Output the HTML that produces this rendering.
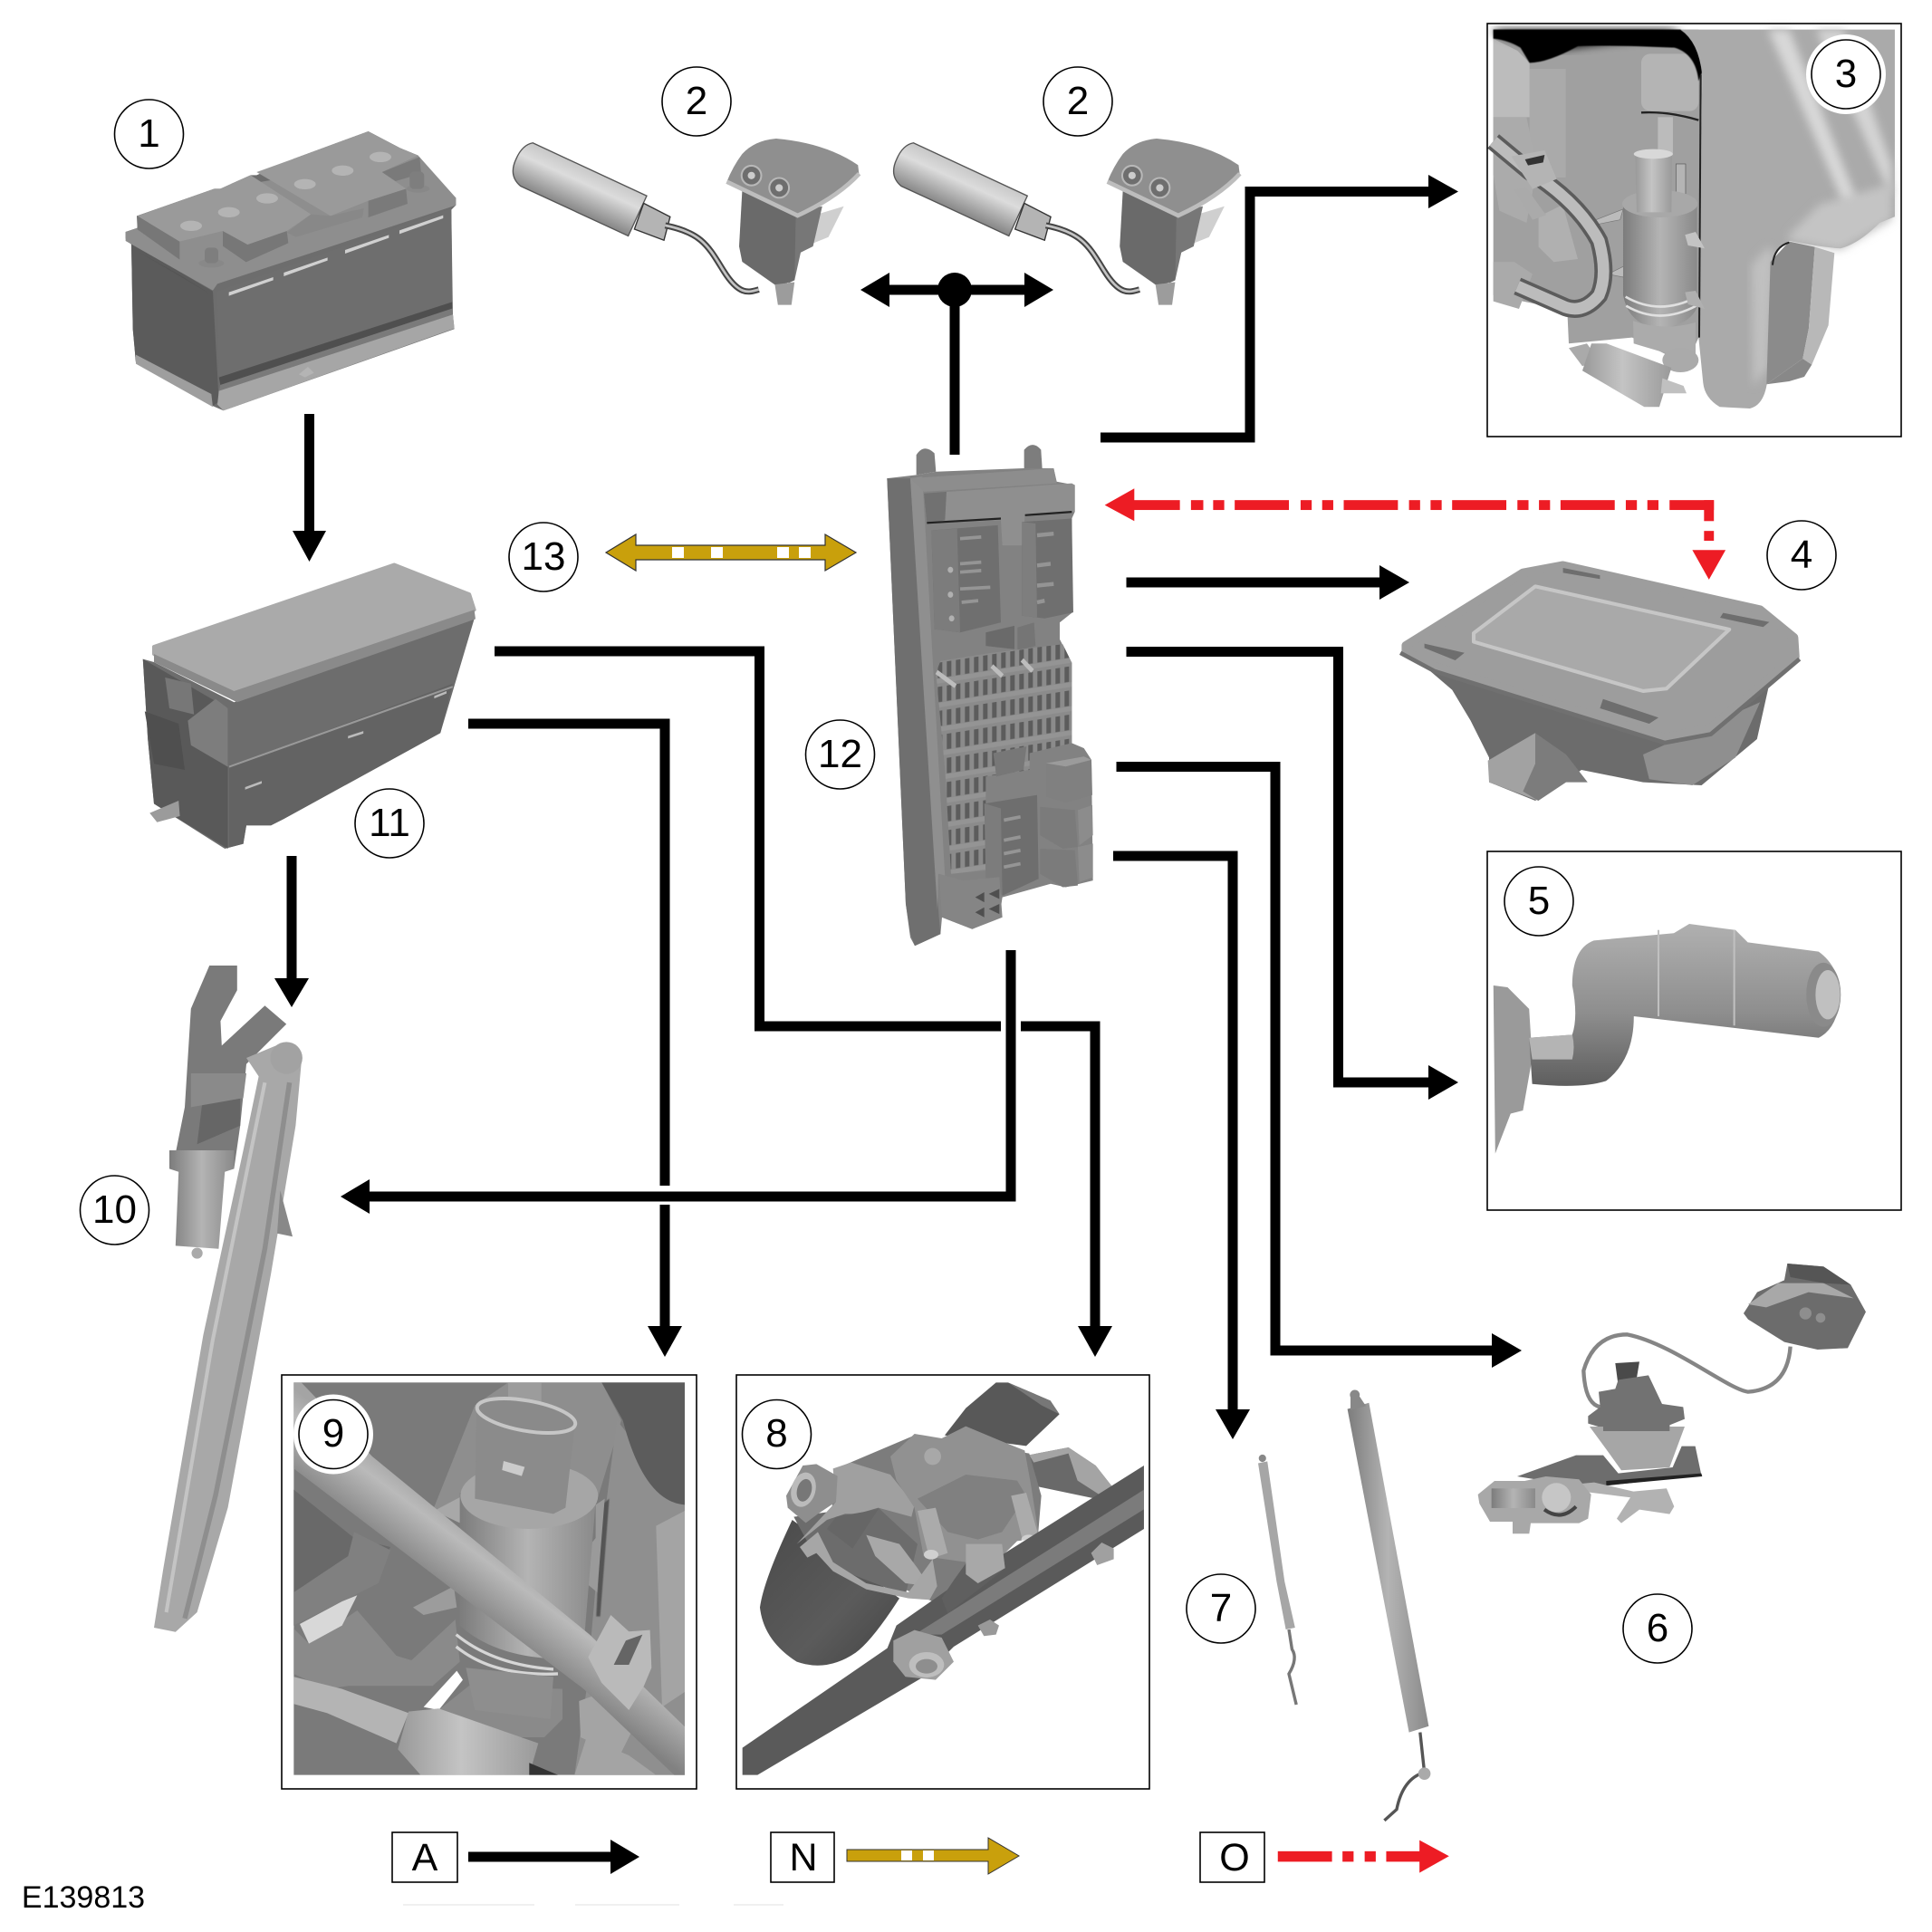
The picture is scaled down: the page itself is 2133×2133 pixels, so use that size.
<!DOCTYPE html>
<html><head><meta charset="utf-8"><style>
html,body{margin:0;padding:0;background:#fff}
svg{display:block}
text{font-family:"Liberation Sans",sans-serif;fill:#000;text-anchor:middle}
.b{fill:none;stroke:#000;stroke-width:11;stroke-linejoin:miter}
.c{fill:#fff;stroke:#000;stroke-width:1.6}
.r{fill:#fff;stroke:#000;stroke-width:1.6}
</style></head><body>
<svg width="2133" height="2133" viewBox="0 0 2133 2133" xmlns="http://www.w3.org/2000/svg">
<defs>
<filter id="bl" x="-20%" y="-20%" width="140%" height="140%"><feGaussianBlur stdDeviation="14"/></filter>
<filter id="bs" x="-20%" y="-20%" width="140%" height="140%"><feGaussianBlur stdDeviation="1.5"/></filter>
<linearGradient id="v" x1="0" y1="0" x2="0" y2="1"><stop offset="0" stop-color="#b0b0b0"/><stop offset=".55" stop-color="#8e8e8e"/><stop offset="1" stop-color="#5e5e5e"/></linearGradient>
<linearGradient id="h" x1="0" y1="0" x2="1" y2="0"><stop offset="0" stop-color="#7c7c7c"/><stop offset=".5" stop-color="#b4b4b4"/><stop offset="1" stop-color="#8a8a8a"/></linearGradient>
<linearGradient id="hl" x1="0" y1="0" x2="1" y2="0"><stop offset="0" stop-color="#999"/><stop offset=".45" stop-color="#c4c4c4"/><stop offset="1" stop-color="#9a9a9a"/></linearGradient>
<linearGradient id="cy" gradientUnits="userSpaceOnUse" x1="960" y1="276" x2="931" y2="340"><stop offset="0" stop-color="#c8c8c8"/><stop offset=".35" stop-color="#dcdcdc"/><stop offset="1" stop-color="#8a8a8a"/></linearGradient>
<linearGradient id="rod9" gradientUnits="userSpaceOnUse" x1="700" y1="540" x2="550" y2="740"><stop offset="0" stop-color="#a4a4a4"/><stop offset=".3" stop-color="#bababa"/><stop offset="1" stop-color="#818181"/></linearGradient>
<linearGradient id="motor" x1="0" y1="0" x2="1" y2="1"><stop offset="0" stop-color="#4a4a4a"/><stop offset=".6" stop-color="#5b5b5b"/><stop offset="1" stop-color="#444"/></linearGradient>
<pattern id="fuse" width="30" height="72" patternUnits="userSpaceOnUse" patternTransform="translate(250,745) skewY(-8)"><rect width="30" height="72" fill="#8b8b8b"/><rect x="6" y="4" width="15" height="46" fill="#5c5c5c"/><rect x="0" y="52" width="30" height="14" fill="#949494"/></pattern>
</defs>

<!-- battery -->
<g transform="translate(120,130) scale(.3333)">
 <polygon points="56,378 95,365 93,325 350,235 370,235 470,190 490,190 615,135 860,45 965,100 1025,125 1035,180 1150,265 1150,290 1135,305 1140,650 1145,700 380,970 345,955 90,810 80,700 75,420 56,400" fill="#6d6d6d"/>
 <polygon points="75,415 345,575 365,940 345,955 90,810 80,700" fill="#5b5b5b"/>
 <polygon points="360,575 1135,300 1138,615 365,860" fill="#6e6e6e"/>
 <polygon points="365,860 1138,610 1138,632 370,885" fill="#4f4f4f"/>
 <polygon points="370,885 1138,632 1140,652 365,905" fill="#7a7a7a"/>
 <polygon points="365,905 1140,652 1145,698 380,970 360,950" fill="#a6a6a6"/>
 <polygon points="90,785 340,915 345,958 90,815" fill="#9e9e9e"/>
 <polygon points="56,378 95,365 370,235 1025,125 1150,265 1150,290 360,550 345,572 56,408" fill="#8e8e8e"/>
 <polygon points="100,445 330,580 235,520" fill="#555"/>
 <polygon points="95,325 235,410 235,470 95,370" fill="#777"/>
 <polygon points="378,375 460,420 590,375 595,415 455,478 378,425" fill="#777"/>
 <polygon points="95,325 350,235 370,235 470,190 670,320 590,375 460,420 378,375 235,410" fill="#9a9a9a"/>
 <polygon points="860,275 985,235 990,285 860,330" fill="#7a7a7a"/>
 <polygon points="905,180 1030,130 1035,185 950,210" fill="#7a7a7a"/>
 <polygon points="490,180 615,135 860,45 965,100 1025,125 905,180 985,235 860,275 735,325" fill="#9a9a9a"/>
 <polygon points="670,320 735,325 845,300 840,330 620,395 590,380" fill="#888"/>
 <g fill="#b4b4b4"><ellipse cx="273" cy="358" rx="36" ry="17"/><ellipse cx="398" cy="313" rx="36" ry="17"/><ellipse cx="525" cy="267" rx="36" ry="17"/><ellipse cx="650" cy="220" rx="36" ry="17"/><ellipse cx="775" cy="175" rx="36" ry="17"/><ellipse cx="900" cy="130" rx="36" ry="17"/></g>
 <g fill="#888"><ellipse cx="340" cy="482" rx="42" ry="14"/><ellipse cx="1025" cy="235" rx="38" ry="13"/></g>
 <g fill="#7e7e7e"><rect x="318" y="430" width="45" height="52" rx="14"/><rect x="997" y="178" width="48" height="58" rx="14"/></g>
 <g fill="#d0d0d0"><polygon points="398,578 545,528 545,538 398,590"/><polygon points="580,513 725,463 725,473 580,525"/><polygon points="783,438 928,388 928,398 783,450"/><polygon points="963,373 1108,323 1108,333 963,385"/></g>
 <g fill="#b4b4b4"><polygon points="630,850 660,825 680,845 650,860"/></g>
</g>

<!-- fuse box 11 -->
<g transform="scale(.68)">
 <polygon points="232,1070 250,1075 380,1140 770,1005 715,1190 460,1330 440,1340 400,1340 395,1370 365,1378 250,1305 240,1200" fill="#6d6d6d"/>
 <polygon points="232,1070 370,1150 370,1378 250,1305 240,1200" fill="#595959"/>
 <polygon points="372,1245 372,1376 395,1370 400,1340 440,1340 460,1330 715,1190 735,1110" fill="#636363"/>
 <polygon points="250,1050 640,917 762,965 770,990 380,1122 250,1062" fill="#aaaaaa" stroke="#aaa" stroke-width="6" stroke-linejoin="round"/>
 <polygon points="250,1062 380,1122 770,990 772,1005 385,1140 250,1075" fill="#8a8a8a"/>
 <polygon points="305,1170 350,1135 370,1150 370,1245 310,1210" fill="#7d7d7d"/>
 <path d="M372 1245 735 1115" stroke="#999" stroke-width="3" fill="none"/>
 <polygon points="243,1320 290,1300 292,1325 255,1335" fill="#9b9b9b"/>
 <polygon points="268,1100 310,1110 315,1160 275,1150" fill="#777"/>
 <polygon points="235,1155 290,1175 300,1250 250,1240" fill="#4f4f4f"/>
 <polygon points="398,1278 425,1268 425,1272 398,1282" fill="#bbb"/><polygon points="565,1195 590,1187 590,1191 565,1199" fill="#bbb"/><polygon points="705,1130 725,1122 725,1126 705,1134" fill="#bbb"/>
</g>

<!-- nozzles -->
<g transform="scale(.68)">
 <g id="noz">
  <path d="M865 232 1050 318 1020 383 845 302Q825 285 838 258Q848 235 865 232Z" fill="url(#cy)" stroke="#555" stroke-width="2"/>
  <polygon points="1045,330 1088,352 1078,390 1030,372" fill="#b4b4b4" stroke="#333" stroke-width="2"/>
  <path d="M1080 366C1140 378 1150 400 1175 440S1215 475 1232 470" stroke="#444" stroke-width="10" fill="none"/>
  <path d="M1080 366C1140 378 1150 400 1175 440S1215 475 1232 470" stroke="#c4c4c4" stroke-width="4" fill="none"/>
  <polygon points="1320,350 1370,335 1345,385 1320,395" fill="#cfcfcf"/>
  <polygon points="1285,345 1335,335 1320,400 1300,410 1290,455 1280,460" fill="#777"/>
  <polygon points="1205,310 1292,350 1290,455 1262,465 1205,425 1200,400" fill="#6a6a6a"/>
  <polygon points="1258,462 1290,458 1285,495 1263,495" fill="#9c9c9c"/>
  <path d="M1205 250Q1225 228 1260 225Q1340 232 1393 268L1395 285Q1360 315 1300 350L1180 295Q1190 270 1205 250Z" fill="#8f8f8f"/>
  <path d="M1180 295 1295 350Q1360 320 1395 282" stroke="#bdbdbd" stroke-width="7" fill="none"/>
  <circle cx="1220" cy="285" r="16" fill="#6e6e6e" stroke="#b8b8b8" stroke-width="3"/><circle cx="1265" cy="305" r="16" fill="#6e6e6e" stroke="#b8b8b8" stroke-width="3"/>
  <circle cx="1220" cy="285" r="6" fill="#ccc"/><circle cx="1265" cy="305" r="6" fill="#ccc"/>
 </g>
 <use href="#noz" transform="translate(618,0)"/>
</g>

<!-- BCM 12 -->
<g transform="translate(960,480) scale(.3333,.37)">
 <g fill="#7d7d7d"><path d="M155 120V60Q180 25 215 55L220 110Z"/><path d="M512 100V45Q540 15 568 45L572 100Z"/></g>
 <polygon points="58,130 155,120 220,110 510,100 610,100 620,140 680,150 680,230 670,250 672,530 630,560 630,610 670,680 670,920 710,935 735,970 740,1330 650,1350 600,1340 440,1380 430,1440 340,1475 240,1440 235,1490 150,1525 135,1500 120,1400" fill="#828282"/>
 <polygon points="58,130 135,130 230,1440 235,1490 150,1525 135,1490 120,1400" fill="#6f6f6f"/>
 <polygon points="135,130 175,125 250,1320 228,1310 225,1420" fill="#8f8f8f"/>
 <polygon points="135,130 610,100 620,145 180,170" fill="#8d8d8d"/>
 <polygon points="180,175 670,145 680,150 680,230 515,240 505,330 440,330 435,255 190,265" fill="#8f8f8f"/>
 <polygon points="180,175 255,170 250,255 190,265" fill="#717171"/>
 <path d="M190 263 435 250M515 240 670 230" stroke="#222" stroke-width="6"/>
 <polygon points="205,285 425,270 435,560 300,590 215,580" fill="#6f6f6f"/>
 <polygon points="205,285 290,280 300,590 215,580" fill="#7c7c7c"/>
 <path d="M300 310 370 305M300 385 370 380M300 410 370 405M300 460 400 455M305 500 360 495" stroke="#959595" stroke-width="10"/>
 <g fill="#b0b0b0"><circle cx="268" cy="403" r="9"/><circle cx="268" cy="477" r="9"/><circle cx="272" cy="548" r="9"/><circle cx="525" cy="372" r="8"/><circle cx="525" cy="440" r="8"/><circle cx="527" cy="508" r="8"/></g>
 <polygon points="505,260 670,250 675,530 580,548 505,540" fill="#6f6f6f"/>
 <polygon points="505,260 550,265 555,545 505,540" fill="#7e7e7e"/>
 <path d="M555 300 610 295M555 390 600 385M555 450 610 445M555 500 580 495" stroke="#949494" stroke-width="12"/>
 <polygon points="385,590 480,570 480,640 385,630" fill="#6a6a6a"/>
 <polygon points="490,575 545,560 550,630 490,645" fill="#757575"/>
 <polygon points="235,675 410,650 640,625 670,680 670,920 530,950 530,1000 385,1020 385,1300 270,1310 250,1000 220,710" fill="url(#fuse)"/>
 <path d="M222 708 285 750M405 690 440 720M505 672 540 705" stroke="#bdbdbd" stroke-width="14"/>
 <polygon points="410,950 520,930 510,1000 420,1020" fill="#777"/>
 <polygon points="585,980 710,960 735,970 738,1075 650,1098 585,1080" fill="#808080"/>
 <polygon points="585,980 710,960 735,970 650,990" fill="#9b9b9b"/>
 <polygon points="565,1110 680,1120 690,1230 640,1235 565,1195" fill="#7b7b7b"/>
 <polygon points="690,1120 738,1105 740,1195 695,1225" fill="#8c8c8c"/>
 <polygon points="565,1235 680,1240 690,1345 640,1350 565,1310" fill="#7b7b7b"/>
 <polygon points="690,1230 740,1220 740,1320 695,1335" fill="#8c8c8c"/>
 <polygon points="385,1100 555,1075 560,1325 440,1375 420,1300" fill="#6e6e6e"/>
 <polygon points="380,1100 435,1115 440,1375 385,1330" fill="#7c7c7c"/>
 <path d="M445 1150 500 1140M445 1210 500 1200M445 1250 500 1240M445 1290 500 1280" stroke="#959595" stroke-width="10"/>
 <polygon points="230,1310 310,1330 430,1320 440,1440 340,1475 240,1440" fill="#858585"/>
 <g fill="#4f4f4f"><polygon points="350,1380 380,1365 380,1395"/><polygon points="395,1370 430,1355 430,1385"/><polygon points="350,1425 380,1410 380,1440"/><polygon points="395,1415 430,1400 430,1430"/></g>
</g>

<!-- wiper 10 -->
<g transform="translate(0,1066) scale(.68)">
  <polygon points="340,0 385,0 385,40 358,90 360,130 430,65 465,95 400,160 390,260 380,330 280,330 300,230 310,70" fill="#7a7a7a"/>
  <polygon points="330,210 390,180 390,260 320,290" fill="#666"/>
  <polygon points="400,150 460,125 490,150 480,260 440,500 370,880 320,1050 285,1082 250,1075 265,980 330,600 395,300 420,180" fill="#a8a8a8"/>
  <path d="M430 190 345 610 270 1050" stroke="#c4c4c4" stroke-width="6" fill="none"/>
  <path d="M470 190 430 460 350 860 300 1060" stroke="#8e8e8e" stroke-width="8" fill="none"/>
  <circle cx="465" cy="150" r="26" fill="#a2a2a2"/>
  <polygon points="275,300 380,300 380,330 365,335 355,460 285,455 290,335 275,330" fill="url(#h)"/>
  <polygon points="455,365 475,440 450,435" fill="#888"/>
  <polygon points="310,175 400,175 395,215 310,230" fill="#8a8a8a"/>
  <circle cx="320" cy="467" r="9" fill="#aaa"/>
</g>

<!-- picture 3 -->
<g transform="translate(1642,26) scale(.3333)">
 <polygon points="20,20 700,20 712,170 700,1040 660,1130 480,1040 270,1060 265,950 20,900" fill="#a0a0a0"/>
 <rect x="510" y="100" width="190" height="190" rx="30" fill="#b4b4b4"/>
 <path d="M510 295Q600 290 700 320" stroke="#222" stroke-width="7" fill="none"/>
 <rect x="140" y="150" width="120" height="360" fill="#aaaaaa"/>
 <rect x="565" y="310" width="50" height="120" fill="#bbb"/>
 <polygon points="20,50 100,90 140,130 140,310 20,310" fill="#bcbcbc"/>
 <polygon points="20,310 130,310 165,480 130,660 40,620 20,500" fill="#ababab"/>
 <polygon points="170,640 250,600 300,780 220,790 170,740" fill="#b0b0b0"/>
 <path d="M20 20H640Q700 60 712 160L700 190Q690 100 620 80Q400 70 300 75Q200 130 140 130L110 80Q70 55 20 50Z" fill="#050505" filter="url(#bs)"/>
 <path d="M20 20H640L600 40 200 90 20 30Z" fill="#000" filter="url(#bl)"/>
 <path d="M640 20H1350V640L1300 660Q1230 730 1170 745Q1100 740 1000 720Q950 750 945 800L930 1140Q930 1260 870 1275L770 1270Q720 1240 715 1190L700 1040L712 170Q700 60 640 20Z" fill="#aaaaaa"/>
 <polygon points="930,20 1000,20 1235,610 1190,620" fill="#d8d8d8" filter="url(#bl)"/>
 <polygon points="1090,20 1180,20 1340,470 1340,580" fill="#d4d4d4" filter="url(#bl)"/>
 <polygon points="1100,600 1340,530 1340,650 1170,750 1000,720 1000,700" fill="#c4c4c4" filter="url(#bl)"/>
 <polygon points="875,800 930,740 950,760 930,1140 880,1200" fill="#c0c0c0" filter="url(#bl)"/>
 <polygon points="938,790 1000,722 1085,740 1065,1010 1045,1110 925,1195" fill="#8b8b8b"/>
 <polygon points="1085,740 1150,760 1130,1000 1075,1130 1045,1110 1065,1010" fill="#b8b8b8"/>
 <polygon points="925,1195 1045,1110 1075,1130 1050,1170 1000,1185" fill="#888"/>
 <path d="M707 170 702 1040" stroke="#222" stroke-width="6" fill="none"/>
 <path d="M1000 725Q950 740 945 800" stroke="#222" stroke-width="6" fill="none"/>
 <path d="M360 650 450 615 440 650 365 665ZM400 830 460 800 450 840Z" fill="#bbb" stroke="#777" stroke-width="2"/>
 <rect x="625" y="465" width="32" height="100" fill="#b4b4b4" stroke="#555" stroke-width="2"/>
 <path d="M450 600V900Q470 1000 570 1010Q670 1000 695 940V590Z" fill="url(#h)"/>
 <ellipse cx="572" cy="597" rx="125" ry="45" fill="#a8a8a8"/>
 <polygon points="490,435 612,430 610,625 495,625" fill="url(#hl)"/>
 <ellipse cx="550" cy="432" rx="65" ry="16" fill="#d8d8d8"/>
 <path d="M458 905Q570 970 695 905M460 935Q570 1000 692 935" stroke="#e0e0e0" stroke-width="8" fill="none"/>
 <path d="M483 985 485 1060 620 1100 690 1110V990Q580 1020 483 985Z" fill="#ababab"/>
 <ellipse cx="640" cy="1115" rx="60" ry="40" fill="#aaa"/>
 <polygon points="655,700 690,690 720,745 665,735" fill="#c4c4c4"/><polygon points="655,890 690,885 720,945 665,930" fill="#b0b0b0"/>
 <polygon points="270,1075 330,1060 370,1115 315,1135" fill="#aaa"/>
 <polygon points="345,1060 395,1060 610,1140 570,1270 520,1270 315,1150" fill="url(#hl)"/>
 <polygon points="580,1175 650,1200 660,1225 575,1225" fill="#c0c0c0"/>
 <polygon points="20,790 90,790 150,830 105,945 20,920" fill="#aaa"/>
 <path d="M20 390 140 490Q300 590 370 720Q400 830 370 900Q320 960 260 940L100 870" stroke="#5c5c5c" stroke-width="60" fill="none"/>
 <path d="M20 390 140 490Q300 590 370 720Q400 830 370 900Q320 960 260 940L100 870" stroke="#bcbcbc" stroke-width="38" fill="none"/>
 <polygon points="80,440 190,420 230,515 150,548" fill="#b4b4b4"/>
 <polygon points="90,550 130,545 195,635 150,650" fill="#aaa"/>
 <polygon points="125,450 190,435 185,460 135,470" fill="#333"/>
</g>

<!-- picture 4 -->
<g transform="translate(1066,0) scale(.68)">
 <polygon points="755,1090 1210,1190 1305,1110 1285,1200 1195,1275 1100,1270 1000,1250 925,1300 850,1270 850,1230 820,1170 790,1120" fill="#6c6c6c"/>
 <polygon points="1100,1225 1290,1140 1250,1230 1180,1275 1110,1265" fill="#8f8f8f"/>
 <polygon points="715,1048 905,930 970,918 1290,990 1345,1035 1347,1066 1210,1182 1135,1198 762,1082 715,1058" fill="#9d9d9d" stroke="#9d9d9d" stroke-width="14" stroke-linejoin="round"/>
 <path d="M706 1060 762 1090 1135 1206 1210 1192 1354 1070" fill="none" stroke="#707070" stroke-width="7"/>
 <polygon points="825,1028 925,952 1240,1022 1138,1118 1100,1122 825,1042" fill="#a9a9a9" stroke="#c6c6c6" stroke-width="6" stroke-linejoin="round"/>
 <g fill="#6e6e6e"><polygon points="970,922 1030,934 1030,940 970,930"/><polygon points="1230,995 1305,1010 1295,1018 1225,1003"/><polygon points="745,1045 810,1060 795,1072 745,1052"/><polygon points="1035,1135 1125,1165 1110,1175 1030,1150"/></g>
 <polygon points="848,1235 925,1190 975,1240 930,1300 850,1270" fill="#a2a2a2"/>
 <polygon points="925,1190 975,1225 1010,1270 975,1270 930,1300 905,1285 925,1240" fill="#7c7c7c"/>
</g>

<!-- picture 5 -->
<g transform="translate(1066,0) scale(.68)">
 <polygon points="857,1600 880,1603 915,1638 920,1718 905,1803 885,1808 860,1873" fill="#9a9a9a"/>
 <path d="M985 1600Q985 1540 1020 1527L1150 1515 1175 1500 1250 1510 1270 1530 1385 1545Q1420 1570 1420 1620Q1415 1670 1385 1685L1085 1650Q1085 1720 1040 1755Q1000 1768 920 1760L915 1685 985 1680Q995 1650 985 1600Z" fill="url(#v)"/>
 <path d="M1125 1510V1650M1248 1510V1665" stroke="#c0c0c0" stroke-width="3" fill="none"/>
 <ellipse cx="1393" cy="1615" rx="28" ry="52" fill="#8a8a8a"/><ellipse cx="1400" cy="1615" rx="20" ry="40" fill="#c0c0c0"/>
 <path d="M915 1685 985 1680Q990 1700 985 1720L920 1720Z" fill="#b4b4b4"/>
</g>

<!-- picture 6 -->
<g transform="translate(1630,1390) scale(.3333)">
 <path d="M1040 290Q1030 430 900 440C830 430 650 280 500 250Q390 250 355 370Q360 480 410 490" stroke="#858585" stroke-width="13" fill="none"/>
 <polygon points="1030,15 1150,25 1240,85 1290,175 1230,295 1130,300 1020,275 900,200 885,180 930,110 1020,70" fill="#6c6c6c"/>
 <polygon points="900,150 1000,80 1150,80 1250,130 1100,110 960,160" fill="#a8a8a8"/>
 <polygon points="1030,15 1150,25 1240,85 1150,80 1040,60" fill="#555"/>
 <circle cx="1090" cy="180" r="20" fill="#8e8e8e"/><circle cx="1140" cy="195" r="16" fill="#8e8e8e"/>
 <polygon points="460,345 540,340 530,400 470,420" fill="#4a4a4a"/>
 <polygon points="405,440 460,430 470,400 570,385 615,480 685,490 690,530 640,550 640,565 420,560 370,545 370,520 410,490" fill="#727272"/>
 <polygon points="135,720 330,650 420,650 470,710 650,690 680,620 725,620 745,715 440,750 380,760" fill="#6d6d6d"/>
 <polygon points="375,555 690,555 640,690 480,700 430,630" fill="#a6a6a6"/>
 <polygon points="420,545 640,550 640,570 420,570" fill="#727272"/>
 <polygon points="430,735 745,710 748,720 430,750" fill="#222"/>
 <polygon points="340,745 390,740 520,770 630,760 655,820 640,845 540,830 480,875 465,860 510,790 350,770" fill="#b2b2b2"/>
 <polygon points="5,780 60,735 160,735 230,720 340,730 380,780 370,860 340,875 180,875 175,910 120,910 120,870 45,870 10,810" fill="#a8a8a8"/>
 <circle cx="265" cy="790" r="48" fill="#c6c6c6"/>
 <path d="M225 830Q280 870 330 820" stroke="#444" stroke-width="12" fill="none"/>
 <rect x="50" y="760" width="145" height="65" fill="url(#h)"/>
</g>

<!-- picture 7 -->
<g transform="translate(1066,1066) scale(.68)">
  <polygon points="475,808 490,805 518,1000 535,1075 520,1078 505,1000" fill="#a6a6a6"/>
  <circle cx="482" cy="800" r="6" fill="#888"/>
  <path d="M525 1078 530 1110Q540 1125 525 1150L537 1200" stroke="#777" stroke-width="5" fill="none"/>
  <polygon points="620,720 655,710 752,1235 720,1245" fill="url(#h)"/>
  <polygon points="625,700 640,700 650,715 625,722" fill="#888"/>
  <circle cx="632" cy="697" r="8" fill="#888"/>
  <path d="M738 1245 745 1310Q710 1320 700 1370L680 1388" stroke="#555" stroke-width="5" fill="none"/>
  <circle cx="745" cy="1312" r="10" fill="#aaa"/>
</g>

<!-- picture 9 -->
<g transform="translate(311,1518) scale(.3333)">
 <rect x="40" y="25" width="1295" height="1300" fill="#7a7a7a"/>
 <polygon points="750,25 1060,25 1125,150 1040,430 500,450 640,100" fill="#8e8e8e"/>
 <polygon points="750,25 860,25 860,90 750,90" fill="#9c9c9c"/>
 <polygon points="1110,150 1335,430 1335,1325 970,1325 1010,1040 1040,700" fill="#8f8f8f"/>
 <polygon points="1240,500 1335,450 1335,1050 1260,1100" fill="#a4a4a4"/>
 <path d="M1060 25H1335V430Q1200 420 1130 150Z" fill="#5c5c5c"/>
 <polygon points="1060,430 1085,410 1055,800 1042,800" fill="#555" filter="url(#bs)"/>
 <polygon points="40,380 240,540 360,570 300,690 40,830" fill="#696969"/>
 <polygon points="40,720 220,600 240,520 360,580 320,690 40,830" fill="#808080"/>
 <polygon points="40,840 90,890 250,780 380,930 430,945 575,810 590,950 500,1030 220,1030 150,1040 40,990" fill="#8a8a8a"/>
 <polygon points="60,825 200,750 250,730 200,830 90,890" fill="#d8d8d8"/>
 <polygon points="470,1100 580,980 600,1010 520,1110" fill="#fff"/>
 <polygon points="40,1000 200,1040 420,1120 380,1220 150,1120 40,1090" fill="#b4b4b4"/>
 <polygon points="435,770 570,700 580,770 470,795" fill="#9c9c9c"/>
 <polygon points="505,450 600,400 590,490" fill="#a8a8a8"/>
 <polygon points="1040,430 1070,410 1045,720 985,670 975,620 1040,540" fill="#9a9a9a"/>
 <polygon points="520,1110 620,1030 930,1040 930,1140 870,1200 620,1200" fill="#8a8a8a"/>
 <path d="M590 390V830Q700 930 900 940L1000 900 1040 420Z" fill="url(#h)"/>
 <ellipse cx="820" cy="400" rx="228" ry="110" fill="#a6a6a6"/>
 <polygon points="645,125 970,175 940,440 900,460 640,410" fill="#8b8b8b"/>
 <ellipse cx="810" cy="135" rx="165" ry="50" transform="rotate(10 810 135)" fill="#8a8a8a" stroke="#c6c6c6" stroke-width="12"/>
 <polygon points="735,285 805,305 795,335 730,315" fill="#cbcbcb"/>
 <path d="M578 860Q700 960 900 975M578 900Q700 1000 915 990" stroke="#d6d6d6" stroke-width="10" fill="none"/>
 <path d="M610 970 900 1000 890 1140 640 1110Z" fill="#8e8e8e"/>
 <polygon points="385,1240 420,1115 520,1105 850,1220 820,1325 460,1325" fill="url(#hl)"/>
 <path d="M820 1285 915 1325H820Z" fill="#333"/>
 <path d="M985 1080 1040 1060 1160 1180 1120 1260 990 1200ZM970 1325 1010 1200 1150 1260 1240 1325Z" fill="#a4a4a4"/>
 <polygon points="40,25 65,25 300,270 1020,860 1335,1165 1335,1325 1300,1325 1000,1040 40,310" fill="url(#rod9)"/>
 <polygon points="1015,935 1090,795 1150,850 1220,845 1225,970 1200,1030 1150,1110 1060,1020" fill="#bababa"/>
 <polygon points="1140,880 1195,860 1150,960 1100,960" fill="#656565"/>
</g>

<!-- picture 8 -->
<g transform="translate(813,1518) scale(.3333)">
 <polygon points="760,110 860,25 900,25 1040,85 1070,130 960,235 690,200" fill="#585858"/>
 <polygon points="900,25 1040,85 1070,130 1010,100" fill="#777"/>
 <polygon points="970,265 1100,240 1190,300 1245,370 1190,410 1000,370 975,330" fill="#696969"/>
 <polygon points="970,265 1100,240 1190,300 1245,370 1200,395 1130,350 1100,260 985,290" fill="#a4a4a4"/>
 <polygon points="330,310 590,200 970,260 1010,400 1000,520 900,620 650,750 300,600" fill="#7c7c7c"/>
 <path d="M185 480 540 740Q450 880 395 920Q300 985 200 950Q90 880 78 770Q90 680 185 480Z" fill="url(#motor)"/>
 <polygon points="190,470 330,450 470,440 600,560 560,730 330,640 250,580" fill="#6c6c6c"/>
 <polygon points="430,530 540,560 600,640 640,700 560,690 460,600" fill="#a8a8a8"/>
 <polygon points="210,570 270,520 320,620 430,690 570,720 650,610 665,700 640,745 570,740 430,710 320,650 265,590 235,605" fill="#a6a6a6"/>
 <polygon points="320,310 380,290 510,330 590,430 580,470 470,440 400,460 360,460 300,480 200,560 330,420" fill="#a0a0a0"/>
 <polygon points="330,470 470,445 385,575 340,540 300,510" fill="#666"/>
 <polygon points="165,400 220,300 265,295 335,335 330,420 270,460 230,490 170,440" fill="#8e8e8e"/>
 <ellipse cx="222" cy="380" rx="40" ry="58" transform="rotate(15 222 380)" fill="#bbb"/>
 <ellipse cx="225" cy="382" rx="24" ry="38" transform="rotate(15 225 382)" fill="#777"/>
 <polygon points="510,270 590,195 680,210 760,170 880,220 955,250 975,360 1000,520 890,620 760,620 620,600 590,440 530,350" fill="#919191"/>
 <polygon points="600,410 760,330 930,350 960,400 880,520 800,545 700,520" fill="#808080"/>
 <polygon points="600,450 660,440 700,590 640,610" fill="#ababab"/>
 <polygon points="910,400 960,390 1000,530 950,555" fill="#ababab"/>
 <ellipse cx="645" cy="595" rx="24" ry="16" fill="#d0d0d0"/><ellipse cx="968" cy="545" rx="24" ry="16" fill="#d0d0d0"/>
 <circle cx="650" cy="270" r="28" fill="#a8a8a8"/>
 <polygon points="890,590 930,550 1010,540 900,620" fill="#fff"/>
 <polygon points="20,1235 500,905 530,830 730,690 1350,300 1350,510 720,900 620,1000 70,1325 20,1325" fill="#5a5a5a"/>
 <polygon points="590,860 1350,380 1350,445 680,860" fill="#7b7b7b"/>
 <polygon points="720,680 770,610 890,620 880,650 700,790 680,740" fill="#5f5f5f"/>
 <polygon points="760,560 880,560 890,640 800,690 760,660" fill="#a8a8a8"/>
 <polygon points="520,880 590,845 680,870 720,950 660,1010 560,1000 520,950" fill="#a0a0a0"/>
 <ellipse cx="630" cy="960" rx="58" ry="42" fill="#bebebe"/>
 <ellipse cx="630" cy="965" rx="36" ry="24" fill="#8e8e8e"/>
 <polygon points="1175,590 1210,555 1250,575 1250,610 1195,630" fill="#a0a0a0"/>
 <polygon points="800,830 840,810 870,830 860,860 820,865" fill="#999"/>
</g>

<!-- frames -->
<rect x="1642" y="26" width="457" height="456" fill="none" stroke="#000" stroke-width="1.6"/>
<rect x="1642" y="940" width="457" height="396" fill="none" stroke="#000" stroke-width="1.6"/>
<rect x="311" y="1518" width="458" height="457" fill="none" stroke="#000" stroke-width="1.6"/>
<rect x="813" y="1518" width="456" height="457" fill="none" stroke="#000" stroke-width="1.6"/>

<!-- connectors -->
<g>
<path class="b" d="M341.5 457V590"/><polygon points="323,586 360,586 341.5,620" />
<path class="b" d="M322 945V1084"/><polygon points="303,1080 341,1080 322,1112"/>
<path class="b" d="M546 719H838.5V1133H1105"/>
<path class="b" d="M1127 1133H1209V1468"/><polygon points="1190,1464 1228,1464 1209,1498"/>
<path class="b" d="M517 799H734V1309"/>
<path class="b" d="M734 1330V1468"/><polygon points="715,1464 753,1464 734,1498"/>
<path class="b" d="M1116 1049V1321H405"/><polygon points="408,1302 408,1340 376,1321"/>
<path class="b" d="M1054 502V320"/><path class="b" d="M978 320H1135"/><circle cx="1054" cy="320" r="19"/>
<polygon points="982,301 982,339 950,320"/><polygon points="1131,301 1131,339 1163,320"/>
<path class="b" d="M1215 483H1380V211.5H1580"/><polygon points="1577,193 1577,230 1610,211.5"/>
<path class="b" d="M1243.5 643H1526"/><polygon points="1523,624 1523,662 1556,643"/>
<path class="b" d="M1243.5 719.5H1477.5V1195H1580"/><polygon points="1577,1176 1577,1214 1610,1195"/>
<path class="b" d="M1232.5 846.5H1408V1491H1650"/><polygon points="1647,1472 1647,1510 1680,1491"/>
<path class="b" d="M1229 945H1361V1560"/><polygon points="1342,1556 1380,1556 1361,1589"/>
<path class="b" d="M517 2050H678"/><polygon points="674,2031 674,2069 706,2050"/>
</g>

<!-- red -->
<g transform="translate(1066,0) scale(.68)" fill="#ed1c24">
 <polygon points="274,793 274,846 226,820"/>
 <rect x="270" y="812" width="78" height="16"/><rect x="366" y="812" width="20" height="16"/><rect x="402" y="812" width="18" height="16"/>
 <rect x="437" y="812" width="88" height="16"/><rect x="544" y="812" width="18" height="16"/><rect x="579" y="812" width="18" height="16"/>
 <rect x="614" y="812" width="88" height="16"/><rect x="720" y="812" width="18" height="16"/><rect x="755" y="812" width="18" height="16"/>
 <rect x="790" y="812" width="88" height="16"/><rect x="896" y="812" width="18" height="16"/><rect x="931" y="812" width="18" height="16"/>
 <rect x="966" y="812" width="88" height="16"/><rect x="1072" y="812" width="18" height="16"/><rect x="1107" y="812" width="18" height="16"/>
 <rect x="1143" y="812" width="72" height="16"/><rect x="1199" y="812" width="16" height="34"/><rect x="1199" y="862" width="16" height="16"/>
 <polygon points="1180,893 1234,893 1207,941"/>
</g>
<g transform="translate(1066,1066) scale(.68)" fill="#ed1c24">
 <rect x="507" y="1438" width="88" height="17"/><rect x="612" y="1438" width="18" height="17"/><rect x="648" y="1438" width="18" height="17"/><rect x="683" y="1438" width="58" height="17"/>
 <polygon points="737,1420 737,1473 785,1446"/>
</g>

<!-- gold 13 -->
<polygon points="669,610 702,590 702,602 911,602 911,590 945,610 911,630 911,618 702,618 702,630" fill="#c9a00c" stroke="#333" stroke-width="1.2"/>
<g fill="#fff"><rect x="742" y="604" width="13" height="12"/><rect x="785" y="604" width="13" height="12"/><rect x="858" y="604" width="13" height="12"/><rect x="882" y="604" width="13" height="12"/></g>
<polygon points="935,2042 1091,2042 1091,2029 1125,2049 1091,2069 1091,2055 935,2055" fill="#c9a00c" stroke="#333" stroke-width="1"/>
<g fill="#fff"><rect x="995" y="2043" width="12" height="11"/><rect x="1019" y="2043" width="12" height="11"/></g>

<!-- legend -->
<rect class="r" x="433" y="2023" width="72" height="55"/><rect class="r" x="851" y="2023" width="70" height="55"/><rect class="r" x="1325" y="2023" width="71" height="55"/>
<g font-size="43">
<text x="469" y="2065">A</text><text x="887" y="2065">N</text><text x="1363" y="2065">O</text>
</g>
<g fill="#f0f0f0"><rect x="445" y="2102" width="145" height="2"/><rect x="635" y="2102" width="115" height="2"/><rect x="810" y="2102" width="55" height="2"/></g>

<!-- callouts -->
<circle cx="368" cy="1583.5" r="44" fill="#fff"/>
<circle cx="2038" cy="82" r="44" fill="#fff"/>
<g>
<circle class="c" cx="164.5" cy="148" r="38"/><circle class="c" cx="769" cy="112" r="38"/><circle class="c" cx="1190" cy="112" r="38"/><circle class="c" cx="2038" cy="82" r="38"/><circle class="c" cx="1989" cy="613" r="38"/><circle class="c" cx="1699" cy="995" r="38"/><circle class="c" cx="1830" cy="1798" r="38"/><circle class="c" cx="1348" cy="1776" r="38"/><circle class="c" cx="857.5" cy="1583.5" r="38"/><circle class="c" cx="368" cy="1583.5" r="38"/><circle class="c" cx="126.5" cy="1336" r="38"/><circle class="c" cx="430" cy="909" r="38"/><circle class="c" cx="927.5" cy="833" r="38"/><circle class="c" cx="600" cy="615" r="38"/>
</g>
<g font-size="44">
<text x="164.5" y="162">1</text><text x="769" y="126">2</text><text x="1190" y="126">2</text><text x="2038" y="96">3</text><text x="1989" y="627">4</text><text x="1699" y="1009">5</text><text x="1830" y="1812">6</text><text x="1348" y="1790">7</text><text x="857.5" y="1597">8</text><text x="368" y="1597">9</text><text x="126.5" y="1350">10</text><text x="430" y="923">11</text><text x="927.5" y="847">12</text><text x="600" y="629">13</text>
</g>
<text x="92" y="2106" font-size="34">E139813</text>
</svg>
</body></html>
